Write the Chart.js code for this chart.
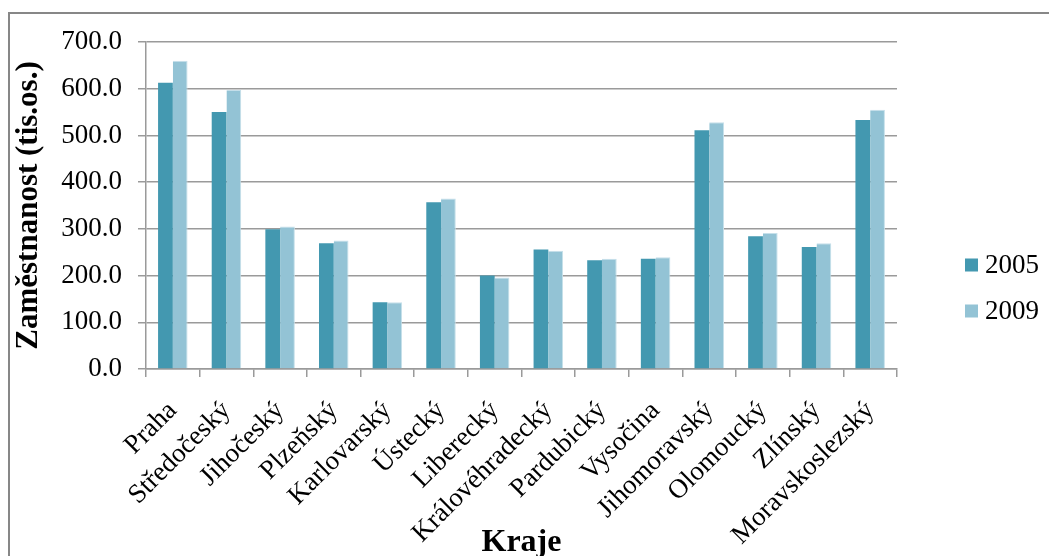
<!DOCTYPE html>
<html lang="cs">
<head>
<meta charset="utf-8">
<title>Zaměstnanost podle krajů 2005 a 2009</title>
<script src="https://cdn.jsdelivr.net/npm/chart.js@4/dist/chart.umd.min.js"></script>
<style>
  html, body { margin: 0; padding: 0; background: #ffffff; }
  #chart { display: block; }
</style>
</head>
<body>
<canvas id="chart" width="1049" height="556"></canvas>
<script>
// Kraje České republiky
const categories = [
  'Praha', 'Středočeský', 'Jihočeský', 'Plzeňský', 'Karlovarský', 'Ústecký',
  'Liberecký', 'Královéhradecký', 'Pardubický', 'Vysočina', 'Jihomoravský',
  'Olomoucký', 'Zlínský', 'Moravskoslezský'
];

// Zaměstnanost v tisících osob
const employment2005 = [613, 550, 299, 269, 143, 357, 200, 256, 233, 236, 511, 284, 261, 533];
const employment2009 = [660, 598, 305, 275, 143, 365, 196, 253, 236, 239, 528, 291, 269, 555];

const seriesLabels = ['2005', '2009'];
const yTickValues = [0, 100, 200, 300, 400, 500, 600, 700];

const SERIF = "'Liberation Serif', 'Times New Roman', serif";
const GRID = '#9a9a9a';

// Frame around the whole chart
const frame = {
  id: 'frame',
  beforeDraw(chart) {
    const ctx = chart.ctx;
    ctx.save();
    ctx.fillStyle = '#ffffff';
    ctx.fillRect(0, 0, chart.width, chart.height);
    ctx.strokeStyle = '#878787';
    ctx.lineWidth = 2;
    ctx.strokeRect(9, 13, chart.width + 20, chart.height + 20);
    ctx.restore();
  }
};

// Legend to the right of the plot
const sideLegend = {
  id: 'sideLegend',
  afterDraw(chart, args, opts) {
    const ctx = chart.ctx;
    ctx.save();
    ctx.font = opts.font;
    ctx.textBaseline = 'middle';
    ctx.textAlign = 'left';
    chart.data.datasets.forEach((ds, i) => {
      const cy = opts.y + i * opts.gap;
      ctx.fillStyle = ds.backgroundColor;
      ctx.fillRect(opts.x, cy - opts.box / 2, opts.box, opts.box);
      ctx.fillStyle = '#000000';
      ctx.fillText(ds.label, opts.x + opts.box + 7, cy + 1);
    });
    ctx.restore();
  }
};

new Chart(document.getElementById('chart'), {
  type: 'bar',
  data: {
    labels: categories,
    datasets: [
      {
        label: seriesLabels[0],
        data: employment2005,
        backgroundColor: '#4398b0',
        borderColor: '#4f9fb5',
        borderWidth: 0
      },
      {
        label: seriesLabels[1],
        data: employment2009,
        backgroundColor: '#93c3d5',
        borderColor: '#c6e0ea',
        borderWidth: { top: 1, right: 1, left: 0, bottom: 0 }
      }
    ]
  },
  options: {
    responsive: false,
    devicePixelRatio: 1,
    animation: false,
    layout: { padding: { left: 13, top: 42, right: 152, bottom: 0 } },
    datasets: {
      bar: { categoryPercentage: 0.55, barPercentage: 1.0 }
    },
    plugins: {
      legend: { display: false },
      tooltip: { enabled: false },
      sideLegend: { x: 965, y: 265, gap: 46, box: 13, font: '27px ' + SERIF }
    },
    scales: {
      x: {
        offset: true,
        border: { display: true, color: GRID, width: 1.5 },
        grid: {
          offset: true,
          drawOnChartArea: false,
          drawTicks: true,
          tickLength: 8,
          color: GRID,
          lineWidth: 1.5
        },
        ticks: {
          autoSkip: false,
          maxRotation: 45,
          minRotation: 45,
          padding: 18,
          color: '#000000',
          font: { family: SERIF, size: 27 }
        },
        title: {
          display: true,
          text: 'Kraje',
          color: '#000000',
          font: { family: SERIF, size: 32, weight: 'bold', lineHeight: 1 },
          padding: { top: 0, bottom: -3 }
        },
        afterFit(scale) { scale.height = 187; }
      },
      y: {
        min: 0,
        max: 700,
        border: { display: true, color: GRID, width: 1.5 },
        grid: {
          color: GRID,
          lineWidth: 1.5,
          drawTicks: true,
          tickLength: 8
        },
        afterBuildTicks(scale) {
          scale.ticks = yTickValues.map(v => ({ value: v }));
        },
        ticks: {
          padding: 16,
          color: '#000000',
          font: { family: SERIF, size: 27 },
          callback: (v) => Number(v).toFixed(1)
        },
        title: {
          display: true,
          text: 'Zaměstnanost (tis.os.)',
          color: '#000000',
          font: { family: SERIF, size: 31, weight: 'bold', lineHeight: 1 },
          padding: { top: 0, bottom: 0 }
        },
        afterFit(scale) { scale.width = 133; }
      }
    }
  },
  plugins: [frame, sideLegend]
});
</script>
</body>
</html>
